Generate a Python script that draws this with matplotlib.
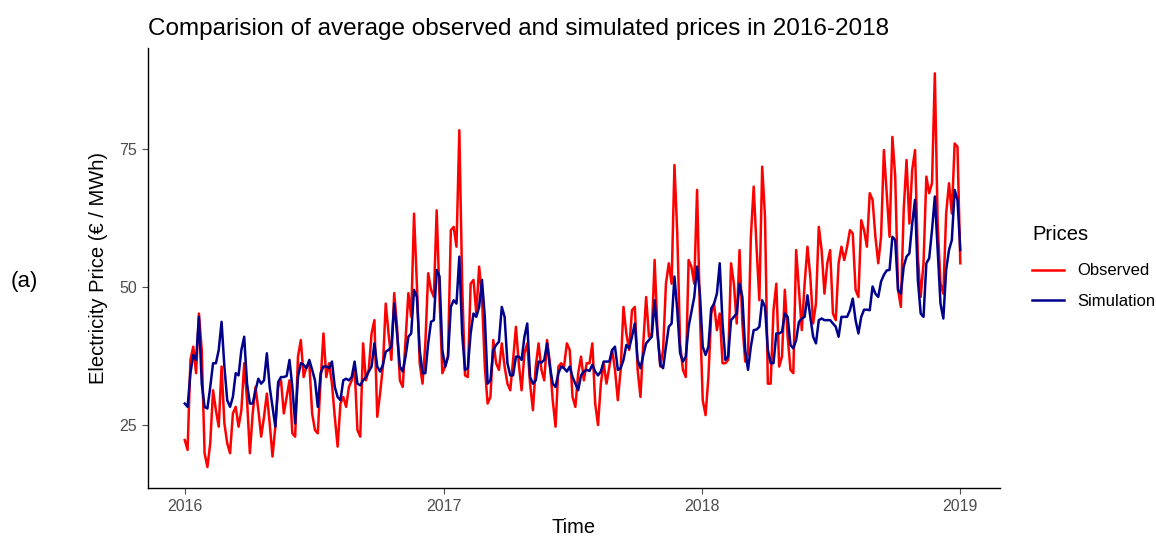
import matplotlib
matplotlib.use("Agg")
import matplotlib.pyplot as plt
import matplotlib.dates as mdates
import pandas as pd

plt.rcParams['font.family'] = ['Liberation Sans', 'DejaVu Sans']

# average prices, one value every 4 days from 2016-01-01
start_date = '2016-01-01'
step = '4D'

obs_prices = [
    # 2016 H1
    22.3, 20.5, 36.8, 39.2, 34.4, 45.2, 38.6, 19.9, 17.4, 21.7, 31.3, 27.7, 24.7, 35.6, 25.3, 21.7,
    19.9, 27.1, 28.3, 24.7, 27.7, 36.2, 29.5, 19.9, 27.1, 31.9, 27.7, 22.9, 26.5, 30.7, 25.3, 19.3,
    24.7, 31.9, 33.1, 27.1, 30.1, 33.1, 23.5, 22.9, 37.4, 40.4, 33.7, 35.6, 36.2, 27.1,
    # 2016 H2
    24.1, 23.5, 33.1, 41.6, 33.7, 36.2, 32.5, 26.5, 21.1, 28.9, 30.1, 28.3, 31.9, 33.1, 35.6, 24.1,
    22.9, 39.8, 33.1, 35.0, 41.6, 44.0, 26.5, 30.7, 35.6, 47.0, 41.6, 36.8, 48.9, 42.8, 33.1, 31.9,
    40.4, 48.9, 44.6, 63.3, 50.6, 36.2, 32.5, 39.8, 52.5, 49.5, 48.2, 63.9, 48.2, 34.4,
    # 2017 H1
    35.6, 37.4, 60.3, 60.9, 57.3, 78.4, 50.6, 34.0, 33.7, 50.6, 51.3, 45.2, 53.7, 48.2, 35.6, 28.9,
    30.1, 40.4, 36.2, 35.0, 39.8, 35.6, 32.5, 31.3, 36.8, 42.8, 36.2, 31.3, 38.0, 39.8, 32.5, 27.7,
    35.6, 39.8, 35.0, 33.1, 40.4, 36.2, 29.5, 24.7, 35.6, 36.2, 35.6, 39.8, 38.6, 30.1,
    # 2017 H2
    28.3, 34.4, 37.4, 33.1, 36.2, 36.2, 39.8, 28.9, 25.0, 32.5, 36.2, 32.5, 35.6, 38.6, 35.0, 29.5,
    35.0, 46.4, 41.6, 38.6, 45.8, 46.4, 35.0, 30.1, 39.8, 48.2, 41.0, 41.6, 54.9, 42.2, 35.6, 38.6,
    50.6, 54.3, 50.6, 72.1, 59.7, 39.8, 35.0, 33.7, 54.9, 53.7, 50.6, 67.6, 45.2, 29.5,
    # 2018 H1
    26.8, 33.7, 45.2, 47.0, 42.2, 45.2, 36.2, 36.2, 36.8, 54.3, 50.6, 43.4, 56.7, 43.4, 36.5, 38.0,
    59.1, 68.2, 57.3, 47.6, 71.8, 62.7, 32.5, 32.5, 45.8, 50.6, 35.6, 37.4, 49.5, 41.0, 35.0, 34.4,
    56.7, 49.5, 42.2, 50.6, 57.3, 51.9, 43.4, 47.0, 60.9, 56.7, 48.8, 54.3, 56.7, 45.2,
    # 2018 H2
    44.0, 54.3, 57.3, 54.9, 57.3, 60.3, 59.7, 49.5, 48.2, 62.1, 60.3, 57.3, 67.0, 65.8, 59.1, 54.3,
    59.1, 74.8, 67.0, 59.1, 77.2, 70.0, 49.5, 46.4, 64.0, 73.0, 61.5, 71.2, 74.8, 55.5, 48.2, 54.3,
    70.0, 67.0, 68.8, 88.7, 61.5, 50.6, 48.8, 63.3, 68.8, 63.3, 76.0, 75.4, 54.3,
]

sim_prices = [
    # 2016 H1
    28.9, 28.3, 34.4, 37.7, 36.8, 44.6, 32.5, 28.3, 28.0, 31.9, 36.2, 36.2, 38.6, 43.7, 35.6, 29.5,
    28.3, 30.1, 34.4, 34.0, 38.6, 41.0, 32.5, 28.9, 28.9, 31.3, 33.4, 32.5, 33.1, 38.0, 31.9, 28.3,
    24.7, 32.8, 33.7, 33.7, 33.9, 36.8, 31.9, 25.3, 33.7, 36.2, 35.9, 35.3, 36.8, 35.0,
    # 2016 H2
    33.1, 28.3, 34.4, 35.6, 35.6, 35.3, 36.5, 31.9, 30.1, 29.5, 33.1, 33.4, 33.1, 33.7, 36.5, 32.5,
    32.2, 33.1, 33.7, 34.7, 35.6, 39.8, 35.6, 34.7, 35.9, 38.3, 38.6, 39.2, 47.0, 41.6, 35.6, 34.7,
    37.4, 41.0, 41.6, 49.5, 48.2, 38.6, 34.4, 34.4, 39.8, 43.7, 44.0, 53.1, 51.9, 38.6,
    # 2017 H1
    35.6, 37.4, 46.4, 47.6, 47.0, 55.5, 41.6, 35.0, 35.3, 41.6, 45.2, 44.6, 46.4, 51.3, 44.6, 32.5,
    33.1, 38.6, 39.5, 40.1, 46.4, 44.6, 36.2, 34.0, 34.0, 37.4, 37.4, 36.8, 41.0, 43.4, 33.7, 32.5,
    33.1, 36.5, 36.3, 36.8, 39.8, 35.6, 32.5, 31.9, 34.4, 35.6, 35.3, 34.7, 35.6, 33.7,
    # 2017 H2
    32.5, 31.3, 34.0, 34.7, 35.0, 34.8, 35.9, 34.7, 34.0, 34.7, 36.5, 36.5, 36.5, 38.6, 39.2, 35.0,
    35.3, 36.8, 39.5, 38.9, 41.0, 43.4, 36.8, 35.3, 37.7, 39.8, 40.4, 41.0, 47.6, 41.6, 35.9, 35.3,
    39.2, 42.8, 43.4, 51.9, 45.8, 38.0, 36.5, 37.4, 42.8, 45.5, 48.2, 53.7, 48.8, 39.2,
    # 2018 H1
    37.7, 39.2, 46.1, 47.0, 48.8, 54.3, 43.4, 36.8, 37.4, 44.0, 44.6, 45.2, 50.6, 48.2, 38.6, 35.0,
    39.2, 42.2, 42.3, 42.8, 47.6, 46.4, 38.6, 36.2, 36.2, 41.6, 41.6, 41.9, 45.2, 44.6, 39.5, 38.9,
    40.4, 43.7, 44.3, 44.6, 48.5, 44.6, 41.0, 39.8, 44.0, 44.3, 44.0, 44.0, 44.0, 43.4,
    # 2018 H2
    42.8, 41.0, 44.6, 44.6, 44.6, 45.8, 47.9, 44.0, 41.6, 44.6, 45.9, 45.9, 45.8, 50.1, 48.8, 48.2,
    51.0, 52.2, 53.0, 53.1, 59.1, 58.5, 49.5, 48.8, 53.7, 55.5, 56.1, 61.5, 65.8, 51.3, 45.2, 44.6,
    54.3, 55.2, 60.3, 66.4, 56.7, 47.0, 44.3, 53.1, 56.7, 58.5, 67.6, 65.8, 56.7,
]

dates = pd.date_range(start_date, periods=len(obs_prices), freq=step)

fig = plt.figure(figsize=(11.56, 5.39), dpi=100)
ax = fig.add_axes([0.128, 0.0946, 0.737, 0.8164])

ax.plot(dates, obs_prices, color='#FF0000', lw=1.8, label='Observed')
ax.plot(dates, sim_prices, color='#00008B', lw=1.8, label='Simulation')

ax.set_xlim(pd.Timestamp('2016-01-01') - pd.Timedelta(days=52),
            pd.Timestamp('2016-01-01') + pd.Timedelta(days=1152))
ax.set_ylim(13.6, 93.3)
ax.set_yticks([25, 50, 75])
ax.xaxis.set_major_locator(mdates.YearLocator())
ax.xaxis.set_major_formatter(mdates.DateFormatter('%Y'))

for s in ['top', 'right']:
    ax.spines[s].set_visible(False)
for s in ['left', 'bottom']:
    ax.spines[s].set_color('black')
    ax.spines[s].set_linewidth(1.0)
ax.tick_params(axis='both', colors='#4d4d4d', labelsize=11.5, length=4, width=0.8, pad=4)

ax.set_xlabel('Time', fontsize=14.5, color='black', labelpad=3)
ax.set_ylabel('Electricity Price (€ / MWh)', fontsize=14.5, color='black', labelpad=8)
ax.set_title('Comparision of average observed and simulated prices in 2016-2018',
             fontsize=17.5, loc='left', pad=9)

leg = ax.legend(title='Prices', loc='center left', bbox_to_anchor=(1.02, 0.498),
                frameon=False, fontsize=12, title_fontsize=14.5, handlelength=1.9,
                labelspacing=0.95, alignment='left')
leg.get_title().set_position((0, 4))

fig.text(0.009, 0.468, '(a)', fontsize=16)

fig.savefig('out.png', dpi=100)
